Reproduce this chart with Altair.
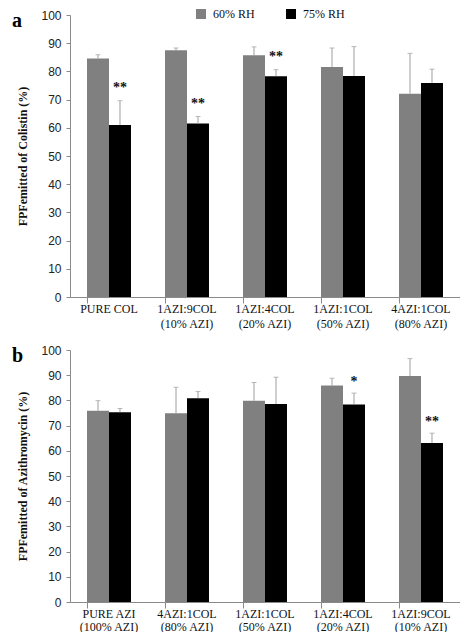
import altair as alt
import pandas as pd

series = ["60% RH", "75% RH"]

cats_a = ["PURE COL", "1AZI:9COL (10% AZI)", "1AZI:4COL (20% AZI)",
          "1AZI:1COL (50% AZI)", "4AZI:1COL (80% AZI)"]
a60 = [84.6, 87.5, 85.7, 81.6, 72.1]
a60_sd = [1.3, 0.8, 3.0, 6.7, 14.3]
a75 = [61.0, 61.5, 78.3, 78.4, 75.9]
a75_sd = [8.6, 2.5, 2.3, 10.4, 4.9]
a_sig = ["**", "**", "**", "", ""]

cats_b = ["PURE AZI (100% AZI)", "4AZI:1COL (80% AZI)", "1AZI:1COL (50% AZI)",
          "1AZI:4COL (20% AZI)", "1AZI:9COL (10% AZI)"]
b60 = [75.9, 74.9, 79.9, 85.9, 89.7]
b60_sd = [4.0, 10.3, 7.2, 2.9, 6.9]
b75 = [75.3, 80.9, 78.6, 78.4, 63.1]
b75_sd = [1.5, 2.6, 10.6, 4.5, 3.9]
b_sig = ["", "", "", "*", "**"]

GRAY_AX = "#8a8a8a"
ERR = "#9e9e9e"
label_expr = ("indexof(datum.label,' (')>0 ? [substring(datum.label,0,indexof(datum.label,' (')),"
              " substring(datum.label,indexof(datum.label,' (')+1)] : datum.label")


def build(cats, v60, s60, v75, s75, sig, ytitle, letter, height, show_legend, lh):
    rows = []
    for i, c in enumerate(cats):
        rows.append({"cat": c, "series": series[0], "value": v60[i],
                     "top": v60[i] + s60[i], "sig": ""})
        rows.append({"cat": c, "series": series[1], "value": v75[i],
                     "top": v75[i] + s75[i], "sig": sig[i]})
    df = pd.DataFrame(rows)
    base = alt.Chart(df)
    x = alt.X("cat:N", sort=cats, title=None,
              scale=alt.Scale(paddingInner=0.436, paddingOuter=0.218),
              axis=alt.Axis(labelAngle=0, labelExpr=label_expr, bandPosition=0,
                            domainColor=GRAY_AX, tickColor=GRAY_AX, tickSize=6,
                            labelPadding=0, labelFont="Liberation Serif",
                            labelFontSize=12, labelColor="#111",
                            labelLineHeight=lh))
    xo = alt.XOffset("series:N", sort=series)
    yaxis = alt.Axis(values=list(range(0, 101, 10)), grid=False, labelOverlap=False,
                     domainColor=GRAY_AX, tickColor=GRAY_AX, tickSize=4,
                     labelPadding=5, labelFont="Liberation Sans",
                     labelFontSize=12, labelColor="#222",
                     title=ytitle, titleFont="Liberation Serif",
                     titleFontSize=12, titleFontWeight="bold",
                     titleColor="#111", titlePadding=11)
    yscale = alt.Scale(domain=[0, 100], nice=False)

    def Y(field):
        return alt.Y(field, scale=yscale, axis=yaxis)

    if show_legend:
        legend = alt.Legend(title=None, orient="none", legendX=125, legendY=-7,
                            direction="horizontal", symbolType="square",
                            symbolSize=100, symbolStrokeWidth=0,
                            labelFont="Liberation Serif", labelFontSize=12,
                            labelColor="#111", columnPadding=30, labelOffset=6,
                            padding=0)
    else:
        legend = None
    color = alt.Color("series:N", sort=series,
                      scale=alt.Scale(domain=series, range=["#808080", "#000000"]),
                      legend=legend)
    bars = base.mark_bar().encode(x=x, xOffset=xo, y=Y("value:Q"), color=color)
    rules = base.mark_rule(color=ERR, strokeWidth=1).encode(
        x=x, xOffset=xo, y=Y("value:Q"), y2="top:Q")
    caps = base.mark_tick(color=ERR, thickness=1, size=5, orient="horizontal").encode(
        x=x, xOffset=xo, y=Y("top:Q"))
    stars = base.transform_filter("datum.sig != ''").transform_calculate(
        sy="datum.top + 4.5").mark_text(
        font="Liberation Serif", fontSize=14, fontWeight="bold", color="#111",
        baseline="middle").encode(x=x, xOffset=xo, y=Y("sy:Q"), text="sig:N")
    lab = alt.Chart(pd.DataFrame({"t": [letter]})).mark_text(
        font="Liberation Serif", fontSize=20, fontWeight="bold", color="#000",
        align="left", baseline="middle", x=-58, y=6).encode(text="t:N")
    return alt.layer(bars, rules, caps, stars, lab).properties(width=390, height=height)


pa = build(cats_a, a60, a60_sd, a75, a75_sd, a_sig,
           "FPFemitted of Colistin (%)", "a", 282, True, 15)
pb = build(cats_b, b60, b60_sd, b75, b75_sd, b_sig,
           "FPFemitted of Azithromycin (%)", "b", 252, False, 13)

chart = alt.vconcat(pa, pb, spacing=15).resolve_scale(color="independent").properties(
    padding={"left": 4, "top": 0, "right": 0, "bottom": 0},
    background="white").configure_view(stroke=None)

chart.save("out.html", embed_options={"renderer": "svg", "actions": False})
